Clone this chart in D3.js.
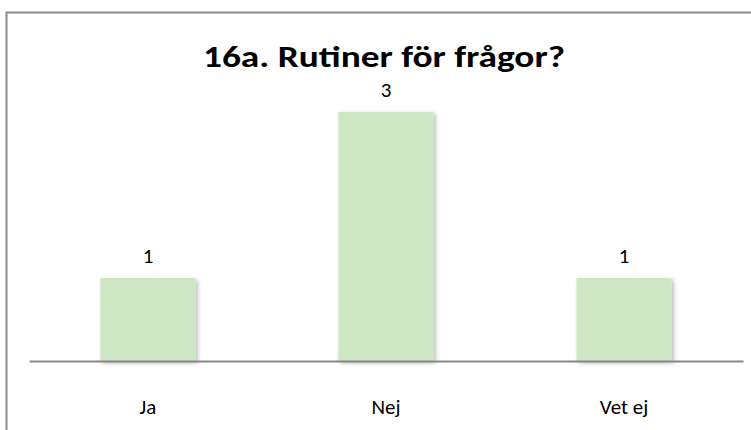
<!DOCTYPE html>
<html>
<head>
<meta charset="utf-8">
<script src="https://cdn.jsdelivr.net/npm/d3@7"></script>
<style>
html,body{margin:0;padding:0;background:#fff;}
svg{display:block;}
text{font-family:Carlito,Calibri,Lato,sans-serif;fill:#000;}
</style>
</head>
<body>
<svg id="chart" width="751" height="430"></svg>
<script>
const title = "16a. Rutiner för frågor?";
const categories = ["Ja", "Nej", "Vet ej"];
const values = [1, 3, 1];

const svg = d3.select("#chart");

const defs = svg.append("defs");
const f = defs.append("filter").attr("id","shadow")
  .attr("x","-20%").attr("y","-20%").attr("width","140%").attr("height","140%");
f.append("feDropShadow").attr("dx",2).attr("dy",2).attr("stdDeviation",2)
  .attr("flood-color","#000").attr("flood-opacity",0.28);

// outer frame
svg.append("rect").attr("x",6.5).attr("y",12.5).attr("width",800).attr("height",500)
  .attr("fill","#fff").attr("stroke","#8a8a8a").attr("stroke-width",2);

const plot = {left:29, right:743, top:112, bottom:361};
const x = d3.scaleBand().domain(categories).range([plot.left, plot.right]).paddingInner(0.6).paddingOuter(0.3);
const y = d3.scaleLinear().domain([0, 3]).range([plot.bottom, plot.top]);

svg.append("g").selectAll("rect").data(values).join("rect")
  .attr("x",(d,i)=>x(categories[i]))
  .attr("y",d=>y(d))
  .attr("width",x.bandwidth())
  .attr("height",d=>y(0)-y(d))
  .attr("fill","#cfe6c4")
  .attr("filter","url(#shadow)");

// axis line
const axis = svg.append("g").attr("transform",`translate(0,${plot.bottom})`)
  .call(d3.axisBottom(x).tickSize(0).tickPadding(0));
axis.select(".domain").attr("stroke","#878787").attr("stroke-width",2);
axis.selectAll(".tick text").remove();

// category labels
svg.append("g").selectAll("text").data(categories).join("text")
  .attr("x",d=>x(d)+x.bandwidth()/2)
  .attr("y",414)
  .attr("text-anchor","middle")
  .attr("font-size",21)
  .text(d=>d);

// value labels
svg.append("g").selectAll("text").data(values).join("text")
  .attr("x",(d,i)=>x(categories[i])+x.bandwidth()/2)
  .attr("y",d=>y(d)-15)
  .attr("text-anchor","middle")
  .attr("font-size",21)
  .text(d=>d);

// title
const t = svg.append("text").attr("x",384).attr("y",67)
  .attr("text-anchor","middle").attr("font-size",31).attr("font-weight","bold")
  .text(title);
const len = t.node().getComputedTextLength();
if (Math.abs(len-362) > 4) t.attr("textLength",362).attr("lengthAdjust","spacingAndGlyphs");
</script>
</body>
</html>
